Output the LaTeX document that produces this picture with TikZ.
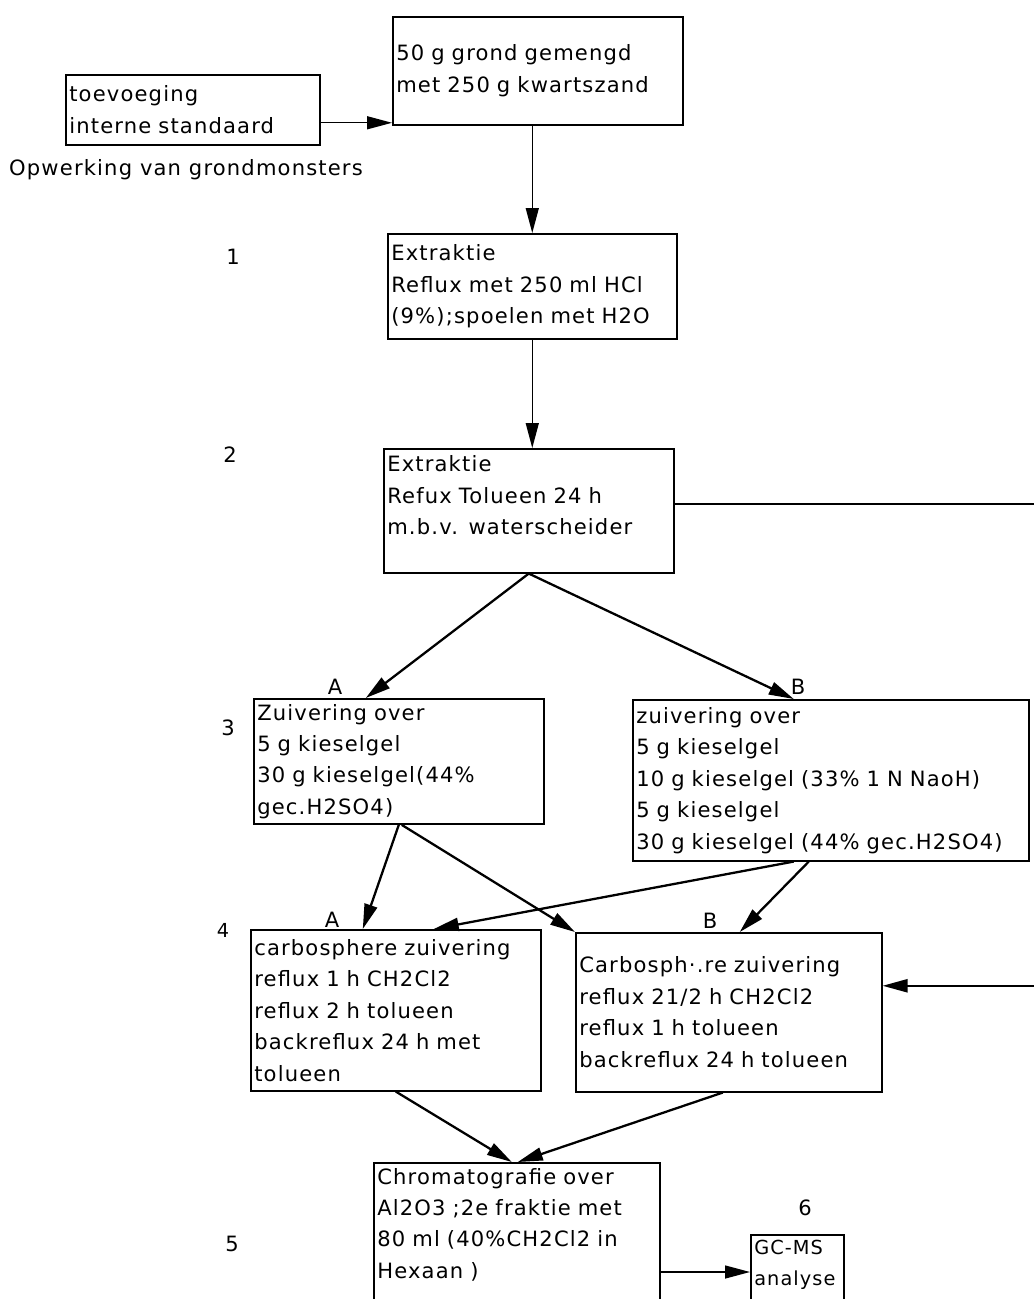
\documentclass[tikz,border=0pt]{standalone}
\usepackage{fontspec}
\setmainfont{DejaVu Sans}[LetterSpace=5.5]
\usepackage{tikz}
\usetikzlibrary{arrows.meta,positioning}

\newcommand{\stepfont}{\fontsize{12}{17.9}\selectfont}

\begin{document}
\begin{tikzpicture}[
    x=0.02cm, y=-0.02cm,
    box/.style={rectangle, draw, line width=0.9pt, anchor=north west, align=left, inner xsep=2pt, inner ysep=3pt, font=\stepfont},
    numtag/.style={font=\stepfont},
    lettertag/.style={font=\fontsize{12}{14}\selectfont},
    arrow/.style={-{Triangle[length=0.5cm, width=0.26cm]}, line width=1.3pt},
    thinarrow/.style={arrow, line width=0.8pt}
]

\useasboundingbox (0,0) rectangle (1034,1299);

% Start
\node[box, text width=5.66cm, minimum height=2.16cm] (grond) at (392,16) {50 g grond gemengd\\met 250 g kwartszand};
\node[box, text width=4.94cm, minimum height=1.4cm] (standaard) at (65,74) {toevoeging\\interne standaard};
\node[numtag] (titel) at (186,170) {Opwerking van grondmonsters};

% Extraction
\node[box, text width=5.64cm, minimum height=2.1cm] (extr1) at (387,233) {Extraktie\\Reflux met 250 ml HCl\\(9\%);spoelen met H2O};
\node[box, text width=5.66cm, minimum height=2.48cm] (extr2) at (383,448) {Extraktie\\Refux Tolueen 24 h\\m.b.v. waterscheider\\ \mbox{}};

% Clean-up A and B
\node[box, text width=5.66cm, minimum height=2.46cm] (zuivA) at (253,698) {Zuivering over\\5 g kieselgel\\30 g kieselgel(44\%\\gec.H2SO4)};
\node[box, text width=7.78cm, minimum height=3.22cm] (zuivB) at (632,699) {zuivering over\\5 g kieselgel\\10 g kieselgel (33\% 1 N NaoH)\\5 g kieselgel\\30 g kieselgel (44\% gec.H2SO4)};

% Carbosphere
\node[box, text width=5.66cm, minimum height=3.22cm] (carbA) at (250,929) {carbosphere zuivering\\reflux 1 h CH2Cl2\\reflux 2 h tolueen\\backreflux 24 h met\\tolueen};
\node[box, text width=5.98cm, minimum height=3.18cm] (carbB) at (575,932) {Carbosph·.re zuivering\\reflux 21/2 h CH2Cl2\\reflux 1 h tolueen\\backreflux 24 h tolueen};

% Chromatography and analysis
\node[box, text width=5.58cm, text depth=3.5cm] (chrom) at (373,1162) {Chromatografie over\\Al2O3 ;2e fraktie met\\80 ml (40\%CH2Cl2 in\\Hexaan )};
\node[box, text width=1.72cm, text depth=2.1cm, font=\fontsize{11}{17.9}\selectfont] (gcms) at (750,1234) {GC-MS\\analyse};

% Step numbers
\node[numtag] (n1) at (233,257) {1};
\node[numtag] (n2) at (230,455) {2};
\node[numtag] (n3) at (228,728) {3};
\node[numtag, font=\fontsize{11}{12}\selectfont] (n4) at (223,930) {4};
\node[numtag] (n5) at (232,1244) {5};
\node[numtag] (n6) at (805,1208) {6};

% Route letters
\node[lettertag] (la3) at (335,687) {A};
\node[lettertag] (lb3) at (798,687) {B};
\node[lettertag] (la4) at (332,920) {A};
\node[lettertag] (lb4) at (710,921) {B};

% Flow
\draw[thinarrow] ([yshift=-0.26cm]standaard.east) -- ([yshift=-0.26cm]standaard.east -| grond.west);
\draw[thinarrow] (grond.south -| extr1.north) -- (extr1.north);
\draw[thinarrow] (extr1.south) -- (extr1.south |- extr2.north);
\draw[arrow] (extr2.south) -- ([xshift=-0.66cm]zuivA.north);
\draw[arrow] (extr2.south) -- ([xshift=-0.74cm]zuivB.north);
\draw[arrow] (zuivA.south) -- ([xshift=-0.66cm]carbA.north);
\draw[arrow] ([xshift=0.06cm]zuivA.south) -- (carbB.north west);
\draw[arrow] ([xshift=-0.74cm]zuivB.south) -- ([xshift=0.76cm]carbA.north);
\draw[arrow] ([xshift=-0.44cm]zuivB.south) -- ([xshift=0.22cm]carbB.north);

% Bypass to carbosphere B
\coordinate (omweg) at (1046,700);
\draw[arrow] ([yshift=0.14cm]extr2.east) -| (omweg) |- ([yshift=0.53cm]carbB.east);

\draw[arrow] (carbA.south) -- ([xshift=-0.1cm]chrom.north);
\draw[arrow] ([xshift=-0.12cm]carbB.south) -- ([xshift=0.02cm]chrom.north);

\coordinate (gcin) at ([yshift=-0.76cm]gcms.north west);
\draw[thinarrow] (chrom.east |- gcin) -- (gcin);

\end{tikzpicture}
\end{document}
